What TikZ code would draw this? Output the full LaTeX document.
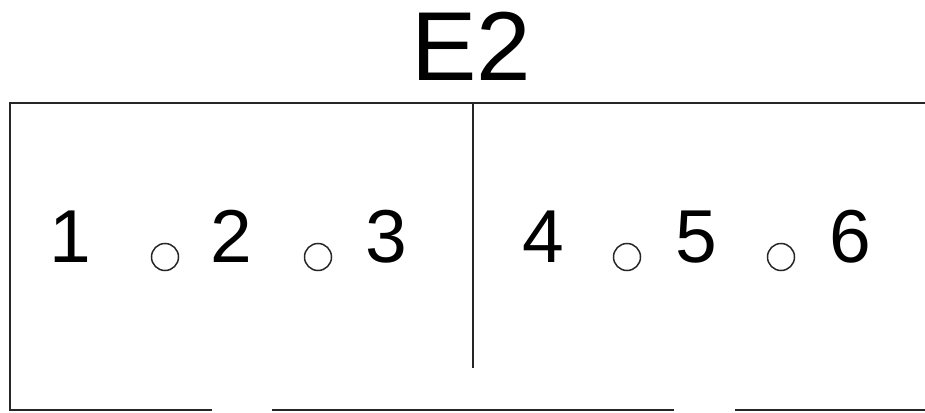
\documentclass[tikz,border=0pt]{standalone}
\usepackage{fontspec}
\setmainfont{Liberation Sans}
\begin{document}
\begin{tikzpicture}[x=1pt,y=-1pt,
  frame/.style={draw=black!85,line width=1.8pt},
  digit/.style={anchor=base,inner sep=0pt,font=\fontsize{75}{90}\selectfont},
  title/.style={anchor=base,inner sep=0pt,font=\fontsize{98}{110}\selectfont},
  pin/.style={draw=black!85,line width=1.5pt,circle,minimum size=27pt,inner sep=0pt}]
\useasboundingbox (0,0) rectangle (925,412);
\node[title] (t) at (471,80) {E2};
\coordinate (tl) at (10,103);
\coordinate (tr) at (928,103);
\coordinate (bl) at (10,410);
\coordinate (b1) at (212,410);
\coordinate (b2) at (272,410);
\coordinate (b3) at (674,410);
\coordinate (b4) at (735,410);
\coordinate (br) at (928,410);
\coordinate (mt) at (473,103);
\coordinate (mb) at (473,368);
\draw[frame] (b1) -- (bl) -- (tl) -- (tr);
\draw[frame] (b2) -- (b3);
\draw[frame] (b4) -- (br);
\draw[frame,line width=1.5pt] (mt) -- (mb);
\node[digit] (n1) at (70,262) {1};
\node[digit] (n2) at (231,262) {2};
\node[digit] (n3) at (386,262) {3};
\node[digit] (n4) at (543,262) {4};
\node[digit] (n5) at (696,262) {5};
\node[digit] (n6) at (850,262) {6};
\node[pin] (p1) at (165,257) {};
\node[pin] (p2) at (318,257) {};
\node[pin] (p3) at (627,257) {};
\node[pin] (p4) at (781,257) {};
\end{tikzpicture}
\end{document}
